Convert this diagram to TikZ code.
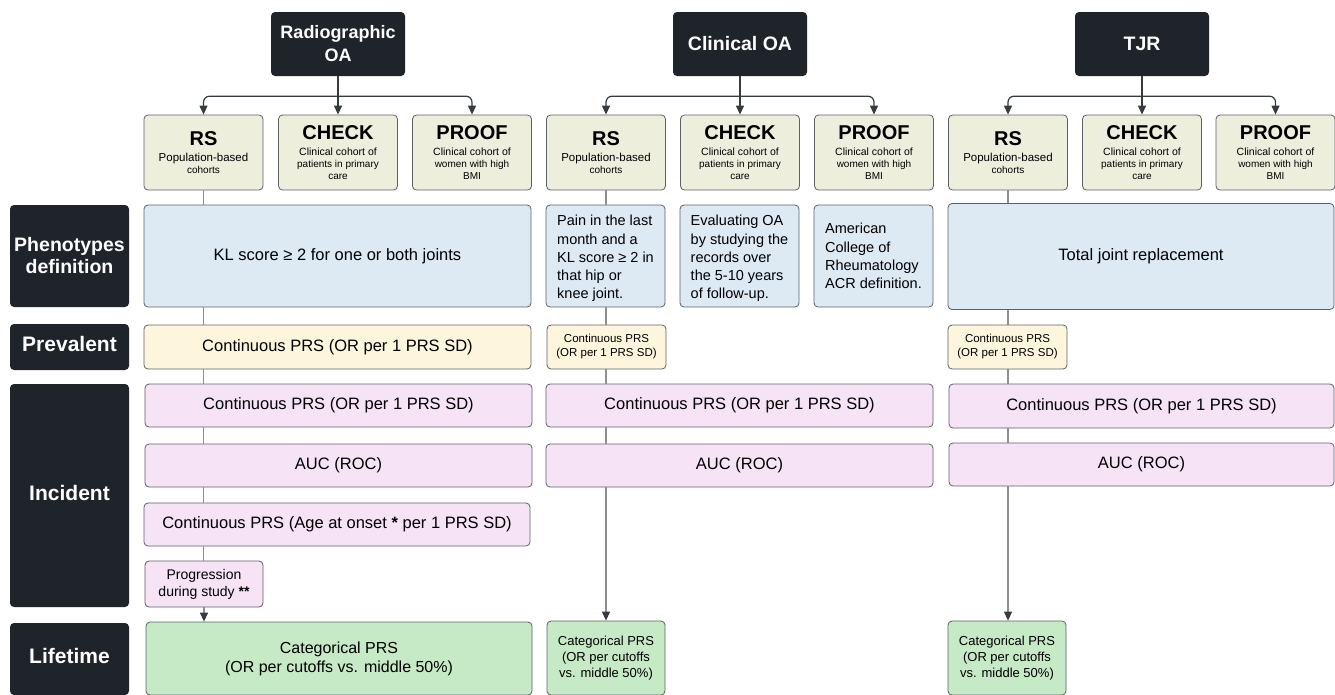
\documentclass[tikz,border=0pt]{standalone}
\usepackage{fontspec}
\setmainfont{Liberation Sans}
\usetikzlibrary{arrows.meta}

\definecolor{darkbox}{HTML}{1F232A}
\definecolor{cohortfill}{HTML}{EEEEDD}
\definecolor{phenofill}{HTML}{DDE9F3}
\definecolor{prevfill}{HTML}{FDF5DC}
\definecolor{incfill}{HTML}{F6E3F6}
\definecolor{lifefill}{HTML}{C6E9C6}
\definecolor{edgegray}{HTML}{5C6168}
\definecolor{linkgray}{HTML}{8E8E8E}
\definecolor{tipdark}{HTML}{363B42}

\newcommand\fsz[2]{\fontsize{#1}{#2}\selectfont}

% cohort box: name, x, title, description
\newcommand\cohortbox[4]{
  \node[cohort] (#1) at (#2,152.5) {{\fsz{20}{22}\bfseries #3}\\[4.5pt]#4};
}

\begin{document}
\begin{tikzpicture}[x=1pt,y=-1pt,
  headbox/.style={fill=darkbox,text=white,rounded corners=4pt,minimum width=134,
    minimum height=64,align=center,inner sep=0pt,font=\fsz{19.5}{23}\bfseries},
  rowbox/.style={fill=darkbox,text=white,rounded corners=4pt,minimum width=119,
    align=center,inner sep=0pt,font=\fsz{21}{24}\bfseries},
  rowone/.style={rowbox,text height=15pt,text depth=6pt},
  cellbox/.style={draw=edgegray,line width=0.8pt,rounded corners=4pt,align=center,inner sep=0pt},
  cohort/.style={cellbox,fill=cohortfill,minimum width=119,minimum height=75},
  pheno/.style={cellbox,fill=phenofill,minimum height=102},
  prev/.style={cellbox,fill=prevfill,minimum height=44},
  inc/.style={cellbox,fill=incfill,minimum height=43},
  life/.style={cellbox,fill=lifefill,minimum height=73},
  bigtext/.style={font=\fsz{16.5}{19}},
  smalltext/.style={font=\fsz{11.5}{14}},
  deftext/.style={align=left,font=\fsz{14.5}{18.2}},
  link/.style={draw=linkgray,line width=1.2pt},
  fork/.style={draw=tipdark,line width=1.2pt,rounded corners=6pt},
  arrowtip/.style={-{Triangle[length=9pt,width=8pt,color=tipdark]}}
]
  \clip (0,0) rectangle (1335,694);

  % outcome headers
  \node[headbox,font=\fsz{18}{23}\bfseries] (radhead) at (338,44) {Radiographic\\OA};
  \node[headbox] (clinhead) at (740,44) {Clinical OA};
  \node[headbox] (tjrhead) at (1142,44) {TJR};

  % cohorts
  \cohortbox{radrs}{203.5}{RS}{\fsz{11.5}{15}Population-based\\cohorts}
  \cohortbox{radcheck}{338}{CHECK}{\fsz{10.5}{12}Clinical cohort of\\patients in primary\\care}
  \cohortbox{radproof}{472}{PROOF}{\fsz{10.5}{12}Clinical cohort of\\women with high\\BMI}
  \cohortbox{clinrs}{606}{RS}{\fsz{11.5}{15}Population-based\\cohorts}
  \cohortbox{clincheck}{740}{CHECK}{\fsz{10.5}{12}Clinical cohort of\\patients in primary\\care}
  \cohortbox{clinproof}{874}{PROOF}{\fsz{10.5}{12}Clinical cohort of\\women with high\\BMI}
  \cohortbox{tjrrs}{1008}{RS}{\fsz{11.5}{15}Population-based\\cohorts}
  \cohortbox{tjrcheck}{1142}{CHECK}{\fsz{10.5}{12}Clinical cohort of\\patients in primary\\care}
  \cohortbox{tjrproof}{1275.5}{PROOF}{\fsz{10.5}{12}Clinical cohort of\\women with high\\BMI}

  % row labels
  \node[rowbox,minimum height=102,font=\fsz{19.5}{22}\bfseries] (rowpheno) at (69.5,256) {Phenotypes\\definition};
  \node[rowone,minimum height=46] (rowprev) at (69.5,347) {Prevalent};
  \node[rowone,minimum height=223] (rowinc) at (69.5,495.5) {Incident};
  \node[rowone,minimum height=72] (rowlife) at (69.5,659) {Lifetime};

  % phenotype definitions
  \node[pheno,bigtext,minimum width=387] (radpheno) at (337.5,256) {KL score ≥ 2 for one or both joints};
  \node[pheno,deftext,minimum width=119] (clinrsdef) at (605.5,256)
    {\rule{0pt}{15.5pt}Pain in the last\\month and a\\KL score ≥ 2 in\\that hip or\\knee joint.};
  \node[pheno,deftext,minimum width=119] (clincheckdef) at (739.5,256)
    {\rule{0pt}{15.5pt}Evaluating OA\\by studying the\\records over\\the 5-10 years\\of follow-up.};
  \node[pheno,deftext,minimum width=119] (clinproofdef) at (873.5,256)
    {American\\College of\\Rheumatology\\ACR definition.};
  \node[pheno,bigtext,minimum width=386,minimum height=106] (tjrpheno) at (1141,256.5) {Total joint replacement};

  % prevalent
  \node[prev,bigtext,minimum width=387] (radprev) at (337.5,347) {Continuous PRS (OR per 1 PRS SD)};
  \node[prev,smalltext,minimum width=119] (clinprev) at (606.5,347) {Continuous PRS\\(OR per 1 PRS SD)};
  \node[prev,smalltext,minimum width=119] (tjrprev) at (1007.5,347) {Continuous PRS\\(OR per 1 PRS SD)};

  % incident
  \node[inc,bigtext,minimum width=387] (radcont) at (338.5,405.5) {Continuous PRS (OR per 1 PRS SD)};
  \node[inc,bigtext,minimum width=387] (radauc) at (338.5,465.5) {AUC (ROC)};
  \node[inc,bigtext,minimum width=386] (radage) at (337,524.5) {Continuous PRS (Age at onset \textbf{*} per 1 PRS SD)};
  \node[inc,minimum width=118,minimum height=46,font=\fsz{14}{17}] (radprog) at (204,584) {Progression\\during study \textbf{**}};
  \node[inc,bigtext,minimum width=387] (clincont) at (739.5,405.5) {Continuous PRS (OR per 1 PRS SD)};
  \node[inc,bigtext,minimum width=387] (clinauc) at (739.5,465.5) {AUC (ROC)};
  \node[inc,bigtext,minimum width=385,minimum height=44] (tjrcont) at (1141.5,406) {Continuous PRS (OR per 1 PRS SD)};
  \node[inc,bigtext,minimum width=385] (tjrauc) at (1141.5,464.5) {AUC (ROC)};

  % lifetime
  \node[life,font=\fsz{16}{19},minimum width=386] (radlife) at (339,658.5) {Categorical PRS\\(OR per cutoffs vs. middle 50\%)};
  \node[life,font=\fsz{13}{16},minimum width=118,minimum height=74] (clinlife) at (606,658) {Categorical PRS\\(OR per cutoffs\\vs. middle 50\%)};
  \node[life,font=\fsz{13}{16},minimum width=118,minimum height=74] (tjrlife) at (1007,658) {Categorical PRS\\(OR per cutoffs\\vs. middle 50\%)};

  % header forks
  \foreach \grp in {rad,clin,tjr} {
    \coordinate (\grp fork) at ([yshift=-20pt]\grp head.south);
    \draw[fork] (\grp head.south) -- (\grp fork);
    \draw[fork,arrowtip] (\grp fork) -| (\grp rs.north);
    \draw[fork,arrowtip] (\grp fork) -- (\grp check.north);
    \draw[fork,arrowtip] (\grp fork) -| (\grp proof.north);
  }

  % RS column links
  \foreach \a/\b in {radrs/radpheno,radpheno/radprev,radprev/radcont,radcont/radauc,radauc/radage,radage/radprog}
    \draw[link] (radrs.south |- \a.south) -- (radrs.south |- \b.north);
  \draw[link,arrowtip] (radprog.south) -- (radprog.south |- radlife.north);

  \foreach \a/\b in {clinrs/clinrsdef,clinrsdef/clinprev,clinprev/clincont,clincont/clinauc}
    \draw[link] (clinrs.south |- \a.south) -- (clinrs.south |- \b.north);
  \draw[link,arrowtip] (clinrs.south |- clinauc.south) -- (clinrs.south |- clinlife.north);

  \foreach \a/\b in {tjrrs/tjrpheno,tjrpheno/tjrprev,tjrprev/tjrcont,tjrcont/tjrauc}
    \draw[link] (tjrrs.south |- \a.south) -- (tjrrs.south |- \b.north);
  \draw[link,arrowtip] (tjrrs.south |- tjrauc.south) -- (tjrrs.south |- tjrlife.north);
\end{tikzpicture}
\end{document}
